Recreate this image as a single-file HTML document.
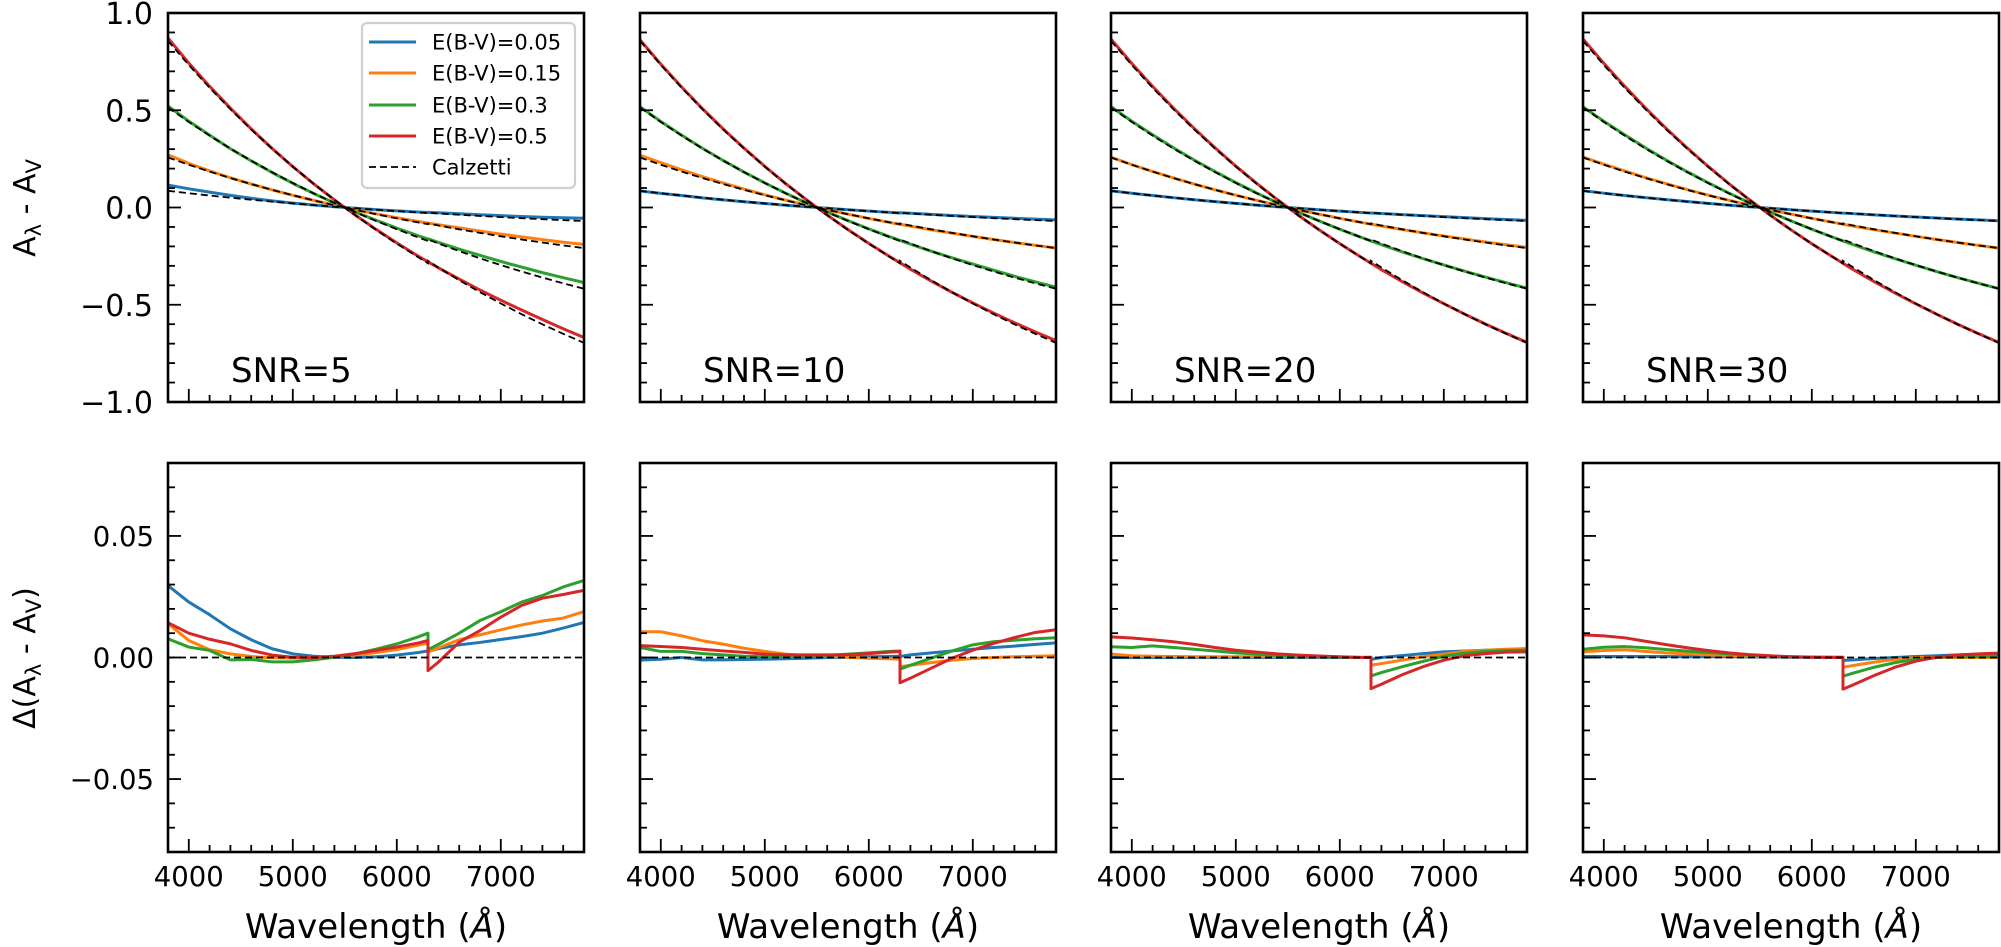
<!DOCTYPE html>
<html><head><meta charset="utf-8"><title>Attenuation curves</title>
<style>
html,body{margin:0;padding:0;background:#fff;}
svg{display:block;font-family:"DejaVu Sans","Liberation Sans",sans-serif;}
</style></head>
<body>
<svg id="fig" width="2001" height="947" viewBox="0 0 2001 947" xmlns="http://www.w3.org/2000/svg"></svg>
<script>
// ---------- data ----------
const wavelengths = [3800,4000,4200,4400,4600,4800,5000,5200,5400,5600,5800,6000,6200,6300,6300,6400,6600,6800,7000,7200,7400,7600,7800];
// Calzetti k(lambda) - R_V
const calzettiK = [1.714,1.465,1.231,1.010,0.802,0.606,0.420,0.244,0.078,-0.080,-0.230,-0.3725,-0.508,-0.5735,-0.548,-0.617,-0.748,-0.871,-0.987,-1.097,-1.201,-1.299,-1.392];
const ebvValues = [0.05,0.15,0.3,0.5];
const seriesLabels = ["E(B-V)=0.05","E(B-V)=0.15","E(B-V)=0.3","E(B-V)=0.5"];
const panelLabels = ["SNR=5","SNR=10","SNR=20","SNR=30"];
const xTicks = [4000,5000,6000,7000];
const topYTicks = [1.0,0.5,0.0,-0.5,-1.0];
const topYTickLabels = ["1.0","0.5","0.0","\u22120.5","\u22121.0"];
const botYTicks = [0.05,0.0,-0.05];
const botYTickLabels = ["0.05","0.00","\u22120.05"];
// residuals (model - Calzetti) per panel
const deltaSNR5 = [
 [0.0296,0.0228,0.0176,0.0118,0.0073,0.0036,0.0015,0.0005,0.0001,0,0.0003,0.001,0.002,0.0027,0.0025,0.0037,0.0052,0.0062,0.0074,0.0086,0.0100,0.0121,0.0144],
 [0.0139,0.007,0.0032,0.0015,0.0004,-0.0001,-0.0003,0,0.0003,0.001,0.002,0.0033,0.005,0.006,0.0022,0.004,0.0073,0.0093,0.0114,0.0134,0.015,0.0162,0.0189],
 [0.0077,0.0043,0.0029,-0.001,-0.0008,-0.0018,-0.0018,-0.001,0.0001,0.0015,0.0034,0.0056,0.0084,0.01,0.0032,0.0054,0.01,0.0152,0.0188,0.0228,0.0255,0.029,0.0317],
 [0.0143,0.01,0.0075,0.0056,0.0029,0.001,0.0001,0,0.0005,0.0016,0.0029,0.0043,0.0059,0.007,-0.0054,-0.0019,0.0063,0.0111,0.0166,0.0214,0.0244,0.0259,0.0276]];
const deltaSNR10 = [
 [-0.0011,-0.0007,0,-0.001,-0.001,-0.0008,-0.0007,-0.0005,-0.0003,0,0.0001,0.0003,0.0004,0.0005,0.0004,0.0011,0.0019,0.0027,0.0034,0.0041,0.0047,0.0054,0.006],
 [0.0106,0.0106,0.0089,0.0069,0.0055,0.0038,0.0025,0.0014,0.0008,0.0005,0.0001,-0.0003,-0.0005,-0.0007,-0.0038,-0.0032,-0.0021,-0.0011,-0.0004,0,0.0003,0.0005,0.0007],
 [0.0041,0.0025,0.0025,0.0016,0.0011,0.0005,0.0003,0.0003,0.0005,0.0008,0.0014,0.0019,0.0025,0.0027,-0.0048,-0.0032,-0.0003,0.0027,0.0052,0.0065,0.0071,0.0077,0.0081],
 [0.0049,0.0045,0.0041,0.0034,0.0027,0.0021,0.0014,0.0011,0.0011,0.0011,0.0012,0.0016,0.0022,0.0025,-0.0104,-0.0085,-0.0044,-0.0003,0.003,0.0058,0.0082,0.0103,0.0114]];
const deltaSNR20 = [
 [0,0,0,0,0,0,0,0,0,0,0,0,0,0.0001,-0.0008,0,0.0008,0.0016,0.0023,0.0027,0.003,0.0033,0.0036],
 [0.0014,0.0007,0.0005,0.0004,0.0003,0.0003,0.0003,0.0003,0.0003,0.0003,0.0002,0.0002,0.0001,0.0001,-0.0032,-0.0025,-0.0011,0.0003,0.0014,0.0025,0.003,0.0034,0.0037],
 [0.0044,0.0041,0.0048,0.0041,0.0034,0.0027,0.0019,0.0014,0.0008,0.0004,0.0003,0.0001,0,0,-0.0076,-0.0062,-0.0038,-0.0016,0.0005,0.0018,0.0025,0.0029,0.003],
 [0.0085,0.008,0.0073,0.0065,0.0054,0.0041,0.003,0.0022,0.0015,0.001,0.0006,0.0003,0,0,-0.0128,-0.011,-0.0071,-0.0038,-0.0011,0.0007,0.0016,0.0022,0.0023]];
const deltaSNR30 = [
 [0.0004,0.0004,0.0004,0.0004,0.0004,0.0003,0.0003,0.0003,0.0002,0.0002,0.0001,0.0001,0,0,-0.0012,-0.001,-0.0004,0,0.0004,0.0007,0.0011,0.0014,0.0015],
 [0.0023,0.0029,0.0032,0.0025,0.0019,0.0015,0.0011,0.0008,0.0005,0.0004,0.0003,0.0002,0.0001,0.0001,-0.004,-0.0033,-0.0019,-0.0008,0,0,0,0,0],
 [0.0034,0.0042,0.0045,0.004,0.0033,0.0026,0.0021,0.0015,0.001,0.0006,0.0003,0.0001,0.0001,0.0001,-0.0077,-0.0064,-0.004,-0.0021,-0.0007,0,0.0003,0.0004,0.0005],
 [0.0093,0.0089,0.0081,0.0067,0.0053,0.004,0.0029,0.0019,0.0012,0.0007,0.0003,0.0001,0,0,-0.013,-0.0112,-0.0074,-0.004,-0.0015,0.0001,0.001,0.0015,0.0018]];
const deltas = [deltaSNR5, deltaSNR10, deltaSNR20, deltaSNR30];

// ---------- layout ----------
const colors = ["#1f77b4","#ff7f0e","#2ca02c","#d62728"];
const panelLefts = [168,640,1111,1583];
const panelW = 416;
const topY0 = 13, topY1 = 402, botY0 = 463, botY1 = 852;
const xMin = 3800, xMax = 7800;
const NS = "http://www.w3.org/2000/svg";
const svg = document.getElementById('fig');

function mk(tag, attrs, parent){
  const e = document.createElementNS(NS, tag);
  for (const k in attrs) e.setAttribute(k, attrs[k]);
  (parent||svg).appendChild(e);
  return e;
}
function xs(p, w){ return panelLefts[p] + (w - xMin)/(xMax - xMin)*panelW; }
function yTop(v){ return topY0 + (1 - v)/2*(topY1 - topY0); }
function yBot(v){ return botY0 + (0.08 - v)/0.16*(botY1 - botY0); }
function pathD(p, vals, yf){
  return vals.map((v,i)=>(i?'L':'M')+xs(p,wavelengths[i]).toFixed(2)+','+yf(v).toFixed(2)).join(' ');
}

for (let p=0; p<4; p++){
  const L = panelLefts[p];
  // ---- top panel ----
  const gT = mk('g', {});
  
  
  const clipT = mk('clipPath', {id:'ct'+p}, gT);
  mk('rect', {x:L, y:topY0, width:panelW, height:topY1-topY0}, clipT);
  const linesT = mk('g', {'clip-path':'url(#ct'+p+')'}, gT);
  for (let s=0; s<4; s++){
    const vals = calzettiK.map((k,i)=>ebvValues[s]*k + deltas[p][s][i]);
    const ln = mk('path', {d:pathD(p, vals, yTop), fill:'none', stroke:colors[s], 'stroke-width':3, 'stroke-linejoin':'round'}, linesT);
    
    
  }
  for (let s=0; s<4; s++){
    const vals = calzettiK.map(k=>ebvValues[s]*k);
    const ln = mk('path', {d:pathD(p, vals, yTop), fill:'none', stroke:'#000', 'stroke-width':1.8, 'stroke-dasharray':'7,4'}, linesT);
    
    
  }
  // ticks
  for (let v=-1.0; v<=1.0001; v+=0.1){
    const major = Math.abs(Math.round(v*10)%5)===0;
    mk('line', {x1:L, x2:L+(major?13:7), y1:yTop(v), y2:yTop(v), stroke:'#000','stroke-width':1.8}, gT);
  }
  for (let w=3800; w<=7800; w+=200){
    const major = w%1000===0;
    mk('line', {x1:xs(p,w), x2:xs(p,w), y1:topY1, y2:topY1-(major?13:7), stroke:'#000','stroke-width':1.8}, gT);
  }
  const frT = mk('rect', {x:L, y:topY0, width:panelW, height:topY1-topY0, fill:'none', stroke:'#000','stroke-width':2.6}, gT);
  
  
  const snr = mk('text', {x:L+63, y:382, 'font-size':34, fill:'#000'}, gT);
  snr.textContent = panelLabels[p];
  
  

  // ---- bottom panel ----
  const gB = mk('g', {});
  
  
  const clipB = mk('clipPath', {id:'cb'+p}, gB);
  mk('rect', {x:L, y:botY0, width:panelW, height:botY1-botY0}, clipB);
  const linesB = mk('g', {'clip-path':'url(#cb'+p+')'}, gB);
  for (let s=0; s<4; s++){
    const ln = mk('path', {d:pathD(p, deltas[p][s], yBot), fill:'none', stroke:colors[s], 'stroke-width':3, 'stroke-linejoin':'round'}, linesB);
    
    
  }
  const zl = mk('line', {x1:L, x2:L+panelW, y1:yBot(0), y2:yBot(0), stroke:'#000','stroke-width':1.8,'stroke-dasharray':'7,4'}, linesB);
  
  
  for (let k=-7; k<=7; k++){
    const v = k*0.01;
    const major = k%5===0;
    mk('line', {x1:L, x2:L+(major?13:7), y1:yBot(v), y2:yBot(v), stroke:'#000','stroke-width':1.8}, gB);
  }
  for (let w=3800; w<=7800; w+=200){
    const major = w%1000===0;
    mk('line', {x1:xs(p,w), x2:xs(p,w), y1:botY1, y2:botY1-(major?13:7), stroke:'#000','stroke-width':1.8}, gB);
  }
  const frB = mk('rect', {x:L, y:botY0, width:panelW, height:botY1-botY0, fill:'none', stroke:'#000','stroke-width':2.6}, gB);
  
  
  xTicks.forEach(w=>{
    const t = mk('text', {x:xs(p,w), y:886, 'font-size':27.5, 'text-anchor':'middle', fill:'#000'}, gB);
    t.textContent = String(w);
    
    
  });
  const xl = mk('text', {x:L+panelW/2, y:938, 'font-size':34, 'text-anchor':'middle', fill:'#000'}, gB);
  xl.innerHTML = 'Wavelength (<tspan font-style="italic">Å</tspan>)';
  
  
}

// y tick labels
topYTicks.forEach((v,i)=>{
  const t = mk('text', {x:153, y:yTop(v)+11, 'font-size':30, 'text-anchor':'end', fill:'#000'});
  t.textContent = topYTickLabels[i];
  
  
});
botYTicks.forEach((v,i)=>{
  const t = mk('text', {x:154, y:yBot(v)+10, 'font-size':27.5, 'text-anchor':'end', fill:'#000'});
  t.textContent = botYTickLabels[i];
  
  
});
// y axis titles
const yt = mk('text', {x:0, y:0, 'font-size':30, 'text-anchor':'middle', fill:'#000', transform:'translate(35,208) rotate(-90)'});
yt.innerHTML = 'A<tspan font-size="21" dy="6">λ</tspan><tspan dy="-6"> - A</tspan><tspan font-size="21" dy="6">V</tspan>';


const yb = mk('text', {x:0, y:0, 'font-size':30, 'text-anchor':'middle', fill:'#000', transform:'translate(35,658) rotate(-90)'});
yb.innerHTML = 'Δ(A<tspan font-size="21" dy="6">λ</tspan><tspan dy="-6"> - A</tspan><tspan font-size="21" dy="6">V</tspan><tspan dy="-6">)</tspan>';



// legend
const lg = mk('g', {});


mk('rect', {x:362, y:23, width:213, height:165, rx:5, fill:'#fff', 'fill-opacity':0.8, stroke:'#d0d0d0', 'stroke-width':2.2}, lg);
const legendYs = [42,73,105,136,167];
for (let s=0; s<5; s++){
  const e = mk('g', {}, lg);
  
  
  if (s<4) mk('line', {x1:369, x2:416, y1:legendYs[s], y2:legendYs[s], stroke:colors[s], 'stroke-width':3}, e);
  else mk('line', {x1:369, x2:416, y1:legendYs[s], y2:legendYs[s], stroke:'#000', 'stroke-width':1.8, 'stroke-dasharray':'7,4'}, e);
  const t = mk('text', {x:432, y:legendYs[s]+7.5, 'font-size':21, fill:'#000'}, e);
  t.textContent = s<4 ? seriesLabels[s] : 'Calzetti';
}
</script>
</body></html>
